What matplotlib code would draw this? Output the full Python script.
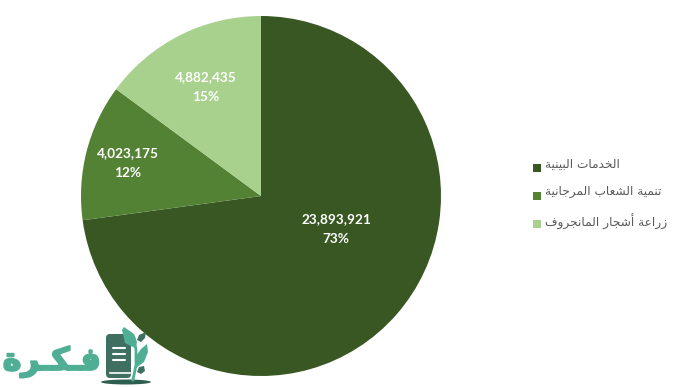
import matplotlib
matplotlib.use("Agg")
import matplotlib.pyplot as plt
import matplotlib.patheffects as pe
from matplotlib.patches import FancyBboxPatch, Rectangle, Polygon, Ellipse

categories = ["الخدمات البينية", "تنمية الشعاب المرجانية", "زراعة أشجار المانجروف"]
values = [23893921, 4023175, 4882435]
percent_labels = ["73%", "12%", "15%"]
colors = ["#385723", "#548235", "#A9D18E"]
logo_text = "فـكـرة"

# isolated, final, initial, medial presentation forms
FORMS = {
    "ا": "\uFE8D\uFE8E", "أ": "\uFE83\uFE84", "د": "\uFEA9\uFEAA", "ر": "\uFEAD\uFEAE",
    "ز": "\uFEAF\uFEB0", "و": "\uFEED\uFEEE", "ة": "\uFE93\uFE94",
    "ل": "\uFEDD\uFEDE\uFEDF\uFEE0", "خ": "\uFEA5\uFEA6\uFEA7\uFEA8",
    "م": "\uFEE1\uFEE2\uFEE3\uFEE4", "ت": "\uFE95\uFE96\uFE97\uFE98",
    "ب": "\uFE8F\uFE90\uFE91\uFE92", "ي": "\uFEF1\uFEF2\uFEF3\uFEF4",
    "ن": "\uFEE5\uFEE6\uFEE7\uFEE8",
    "ش": "\uFEB5\uFEB6\uFEB7\uFEB8", "ع": "\uFEC9\uFECA\uFECB\uFECC",
    "ج": "\uFE9D\uFE9E\uFE9F\uFEA0", "ف": "\uFED1\uFED2\uFED3\uFED4",
    "ك": "\uFED9\uFEDA\uFEDB\uFEDC", "ـ": "ــــ",
}


def shape(text):
    """Join Arabic letters into contextual forms, in visual order."""
    out = []
    for i, ch in enumerate(text):
        f = FORMS.get(ch)
        if f is None:
            out.append(ch)
            continue
        prev = text[i - 1] if i else ""
        nxt = text[i + 1] if i + 1 < len(text) else ""
        after = prev in FORMS and len(FORMS[prev]) == 4
        before = nxt in FORMS and len(f) == 4
        if after and before:
            out.append(f[3])
        elif after:
            out.append(f[1])
        elif before:
            out.append(f[2])
        else:
            out.append(f[0])
    return "".join(reversed(out))


W, H = 681, 387
fig = plt.figure(figsize=(W / 100, H / 100), dpi=100, facecolor="white")

# Pie: centre (261, 196), radius 180 px
ax = fig.add_axes([81 / W, 1 - 376 / H, 360 / W, 360 / H])
ax.pie(values, colors=colors, startangle=90, counterclock=False, radius=1.0)
ax.set_xlim(-1, 1)
ax.set_ylim(-1, 1)
ax.set_aspect("equal")
ax.axis("off")

label_pos = [(0.417, -0.183), (-0.739, 0.183), (-0.306, 0.606)]
for v, p, (x, y) in zip(values, percent_labels, label_pos):
    ax.text(x, y, f"{v:,}\n{p}", color="white", ha="center", va="center",
            fontsize=9.8, fontweight="bold", family="Lato", linespacing=1.75)

# Overlay in pixel coordinates for legend and logo
ov = fig.add_axes([0, 0, 1, 1], facecolor="none")
ov.set_xlim(0, W)
ov.set_ylim(H, 0)
ov.axis("off")

legend_y = [168, 196, 223.5]
legend_text_y = [164, 192, 222]
for name, c, y, ty in zip(categories, colors, legend_y, legend_text_y):
    ov.add_patch(Rectangle((533, y - 4), 8, 8, color=c, lw=0))
    ov.text(545, ty, shape(name), family="DejaVu Sans", fontsize=8.7,
            color="#595959", ha="left", va="center")

# Logo
teal = "#4FAE93"
dark = "#3F6F60"
ov.text(52, 362, shape(logo_text), family="DejaVu Sans", fontweight="bold",
        fontsize=22.5, color=teal, ha="center", va="center",
        path_effects=[pe.withStroke(linewidth=1.5, foreground=teal)])
ov.add_patch(Ellipse((126, 382), 50, 5, color="#2E5E50", lw=0))
ov.add_patch(FancyBboxPatch((107, 335), 23, 42, boxstyle="round,pad=1,rounding_size=4",
                            color=dark, lw=0))
for y0 in [348, 354, 360]:
    ov.plot([113, 125], [y0, y0], color="white", lw=1.5, solid_capstyle="round")
ov.plot([110, 130], [373, 373], color="white", lw=1.2)
ov.plot([133, 136, 136, 134], [380, 365, 350, 338], color=teal, lw=2)
ov.add_patch(Polygon([(135, 348), (125, 343), (122, 330), (124, 327), (134, 334), (137, 342)], color=teal, lw=0))
ov.add_patch(Polygon([(136, 368), (136, 356), (141, 349), (147, 344), (148, 352), (144, 362)], color=teal, lw=0))
ov.add_patch(Polygon([(137, 340), (139, 335), (146, 332), (145, 338), (141, 342)], color=dark, lw=0))
ov.add_patch(Polygon([(137, 372), (139, 367), (144, 366), (145, 371), (141, 374)], color=dark, lw=0))

fig.savefig("out.png", dpi=100, facecolor="white")
